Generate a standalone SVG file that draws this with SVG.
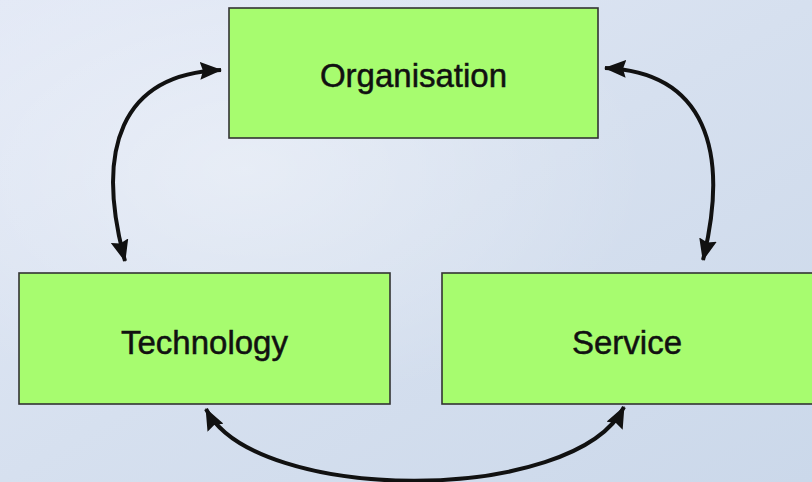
<svg xmlns="http://www.w3.org/2000/svg" width="812" height="482" viewBox="0 0 812 482">
<defs>
<linearGradient id="bg" x1="0" y1="0" x2="1" y2="1">
<stop offset="0" stop-color="#e3e9f6"/>
<stop offset="0.5" stop-color="#d6e0ef"/>
<stop offset="1" stop-color="#cbd8ea"/>
</linearGradient>
<radialGradient id="hl" cx="0.3" cy="0.35" r="0.5">
<stop offset="0" stop-color="#ffffff" stop-opacity="0.35"/>
<stop offset="1" stop-color="#ffffff" stop-opacity="0"/>
</radialGradient>
<marker id="ah" viewBox="0 0 22 18" refX="21" refY="9" markerWidth="22" markerHeight="18" markerUnits="userSpaceOnUse" orient="auto-start-reverse">
<path d="M0,0 L22,9 L0,18 L3,9 Z" fill="#111"/>
</marker>
<style>
.box{fill:#a7fc6f;stroke:#333;stroke-width:1.6}
.lbl{font-family:"Liberation Sans",Arial,sans-serif;font-size:33px;fill:#111;stroke:#111;stroke-width:0.5;text-anchor:middle}
.con{fill:none;stroke:#111;stroke-width:4;marker-start:url(#ah);marker-end:url(#ah)}
</style>
</defs>
<rect width="812" height="482" fill="url(#bg)"/>
<rect width="812" height="482" fill="url(#hl)"/>
<g id="connectors">
<path class="con" d="M221,70 C120,74 95,150 125,261"/>
<path class="con" d="M605,68 C705,72 730,150 703,260"/>
<path class="con" d="M206,409 C255,505 575,505 624,407"/>
</g>
<g id="organisation">
<rect class="box" x="229" y="8" width="369" height="130"/>
<text class="lbl" x="413.5" y="87">Organisation</text>
</g>
<g id="technology">
<rect class="box" x="19" y="273" width="371" height="131"/>
<text class="lbl" x="204.5" y="354">Technology</text>
</g>
<g id="service">
<rect class="box" x="442" y="273" width="372" height="131"/>
<text class="lbl" x="627" y="354">Service</text>
</g>
</svg>
